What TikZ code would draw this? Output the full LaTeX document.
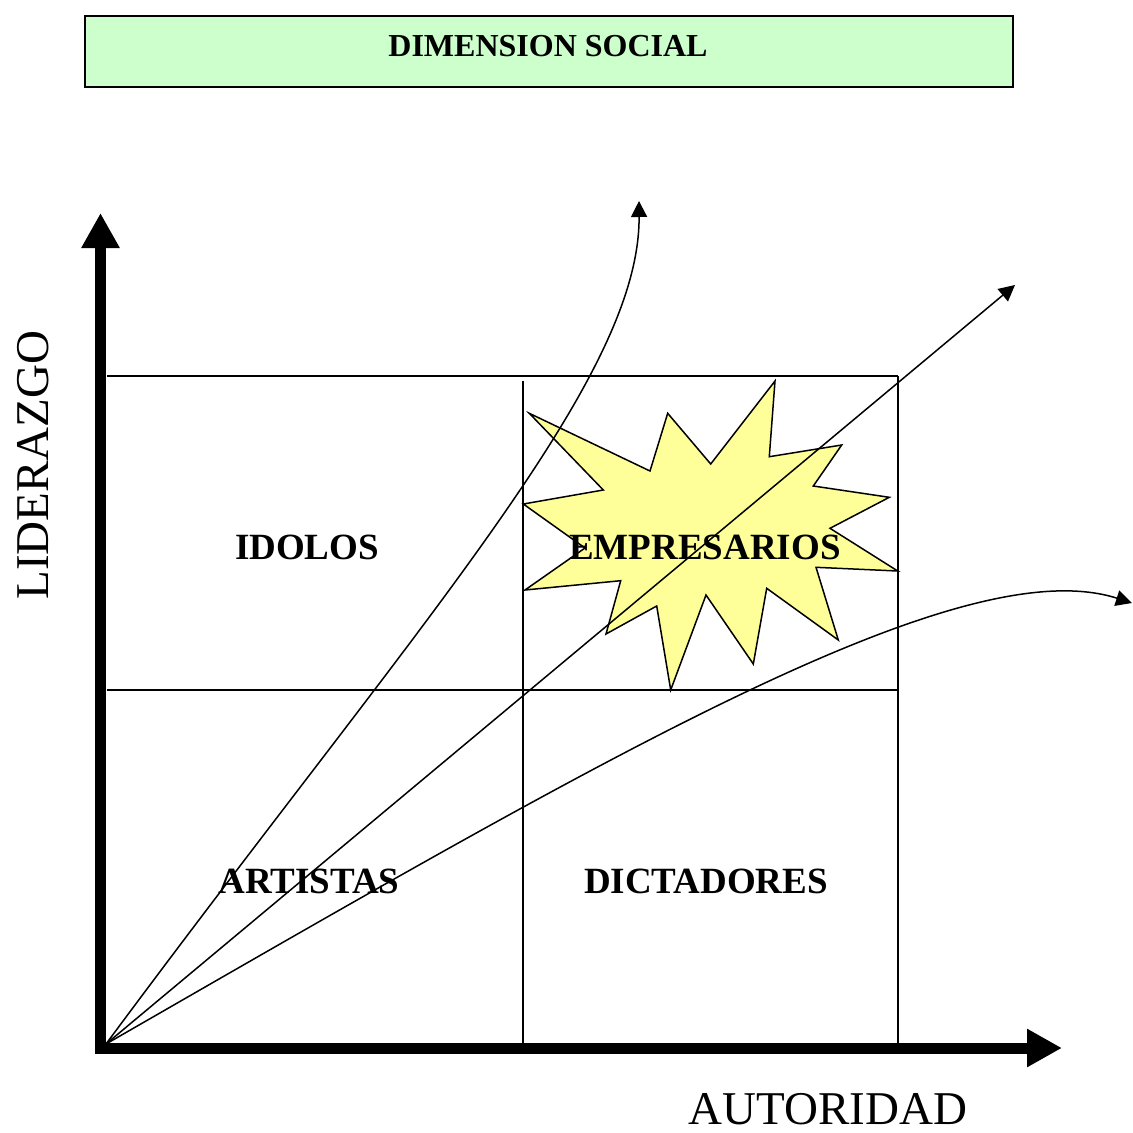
\documentclass[tikz,border=0pt]{standalone}
\usepackage{fontspec}
\setmainfont{Liberation Serif}
\usetikzlibrary{arrows.meta}
\definecolor{titlegreen}{HTML}{CCFFCC}
\definecolor{staryellow}{HTML}{FFFF99}
\begin{document}
\begin{tikzpicture}[x=1pt,y=-1pt,
  gridline/.style={line width=1.5pt},
  ray/.style={line width=1.5pt,-{Triangle[width=16pt,length=16pt]}},
  axis/.style={line width=11pt,line join=miter,{Triangle[width=36pt,length=35pt]}-{Triangle[width=36pt,length=35pt]}},
  quad/.style={font=\fontsize{37}{40}\selectfont\bfseries,inner sep=0pt},
  axlabel/.style={font=\fontsize{47}{50}\selectfont,inner sep=0pt}]
\useasboundingbox (0,0) rectangle (1133,1133);
% title
\node[draw,line width=1.5pt,fill=titlegreen,minimum width=928pt,minimum height=71pt,inner sep=0pt] (titlebox) at (549,51.5) {};
\node[font=\fontsize{32}{35}\selectfont\bfseries,inner sep=0pt] (titletext) at (548,46) {DIMENSION SOCIAL};
% grid
\coordinate (g1) at (107,376);
\coordinate (g2) at (898,376);
\coordinate (g3) at (107,690);
\coordinate (g4) at (898,690);
\coordinate (g5) at (523,381);
\coordinate (g6) at (523,1045);
\coordinate (g7) at (898,1045);
\draw[gridline] (g1) -- (g2);
\draw[gridline] (g3) -- (g4);
\draw[gridline] (g5) -- (g6);
\draw[gridline] (g2) -- (g7);
% star
\draw[line width=1.5pt,fill=staryellow,line join=miter]
  (529.3,413.3) -- (650,471) -- (667.7,413.3) -- (710.7,464) -- (775,381)
  -- (769.3,456.7) -- (841.7,445) -- (813.3,486) -- (889.3,497.3)
  -- (830,528.3) -- (897.7,571) -- (816,567.3) -- (838.3,640)
  -- (766.7,588.3) -- (753.3,664) -- (706,595) -- (670.7,690)
  -- (656.7,606) -- (606,634) -- (620.7,580.7) -- (525,590)
  -- (585,548) -- (523.3,504) -- (603.3,490) -- cycle;
% axes
\coordinate (ytip) at (100.5,213);
\coordinate (corner) at (100.5,1048);
\coordinate (xtip) at (1062,1048);
\draw[axis] (ytip) -- (corner) -- (xtip);
% rays
\coordinate (O) at (106,1044);
\coordinate (t1) at (639,201);
\coordinate (t2) at (1015,285);
\coordinate (t3) at (1132,603);
\draw[ray] (O) .. controls (420,620) and (640,380) .. (t1);
\draw[ray] (O) -- (t2);
\draw[ray] (O) .. controls (600,760) and (960,548) .. (t3);
% labels
\node[quad] (idolos) at (307,547) {IDOLOS};
\node[quad] (empresarios) at (705,547) {EMPRESARIOS};
\node[quad] (artistas) at (309,881) {ARTISTAS};
\node[quad] (dictadores) at (706,881) {DICTADORES};
\node[axlabel,rotate=90] (lid) at (33,465) {LIDERAZGO};
\node[axlabel] (aut) at (828,1109) {AUTORIDAD};
\end{tikzpicture}
\end{document}
